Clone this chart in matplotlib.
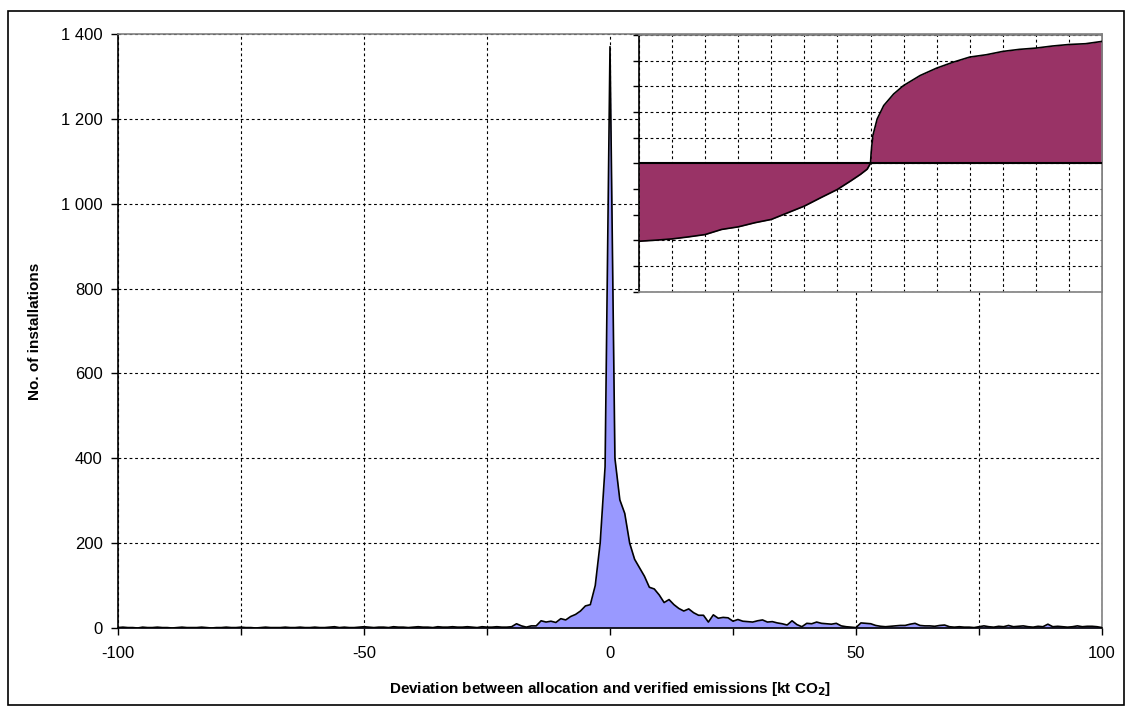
import numpy as np
import matplotlib
matplotlib.use("Agg")
import matplotlib.pyplot as plt
from matplotlib.patches import Rectangle
from matplotlib.ticker import FuncFormatter, MultipleLocator

plt.rcParams['font.family'] = ['Liberation Sans', 'DejaVu Sans']

# histogram: deviation bins (kt CO2) and number of installations
deviation = list(range(-100, 101))
installations = [
    # -100 .. -61
    1, 2, 1, 1, 0, 2, 1, 1, 2, 1, 1, 0, 1, 2, 1, 1, 1, 2, 1, 0,
    1, 1, 2, 1, 1, 2, 1, 1, 0, 1, 2, 1, 1, 1, 2, 1, 1, 2, 1, 1,
    # -60 .. -21
    2, 1, 1, 2, 3, 1, 2, 1, 1, 2, 3, 2, 1, 2, 2, 1, 3, 2, 2, 1,
    2, 3, 2, 2, 1, 3, 2, 2, 3, 2, 2, 3, 2, 1, 3, 2, 2, 3, 2, 2,
    # -20 .. -1
    3, 10, 5, 2, 5, 5, 17, 14, 16, 13, 22, 19, 27, 32, 40, 52, 55, 100, 200, 380,
    # 0 .. 19
    1370, 400, 302, 270, 200, 162, 142, 122, 96, 92, 78, 60, 67, 55, 46, 40, 45, 36, 30, 30,
    # 20 .. 59
    14, 31, 23, 25, 24, 16, 20, 16, 15, 14, 17, 19, 14, 15, 12, 10, 7, 17, 8, 3,
    11, 10, 14, 11, 10, 9, 11, 5, 3, 2, 1, 12, 11, 10, 6, 4, 3, 4, 5, 6,
    # 60 .. 100
    6, 9, 11, 6, 5, 5, 4, 6, 7, 3, 2, 3, 2, 2, 1, 3, 5, 3, 2, 4,
    3, 6, 3, 4, 5, 3, 2, 4, 3, 9, 3, 4, 3, 2, 3, 5, 3, 4, 4, 3, 1,
]

# inset: sorted cumulative curve (grid units)
inset_x = [0, 0.5, 1, 1.5, 2, 2.5, 3, 3.5, 4, 4.5, 5, 5.5, 6, 6.4, 6.7, 6.9, 7.0,
           7.02, 7.07, 7.2, 7.4, 7.7, 8, 8.5, 9, 9.5, 10, 10.5, 11, 11.5, 12,
           12.5, 13, 13.5, 14]
inset_y = [-3.04, -3.0, -2.95, -2.87, -2.78, -2.58, -2.48, -2.32, -2.19, -1.93,
           -1.67, -1.34, -1.02, -0.69, -0.43, -0.23, 0.0,
           0.42, 1.07, 1.72, 2.25, 2.70, 3.03, 3.42, 3.71, 3.94, 4.14, 4.23,
           4.36, 4.44, 4.49, 4.57, 4.63, 4.66, 4.75]

W, H = 1132, 713
fig = plt.figure(figsize=(W / 100, H / 100), dpi=100)

ax = fig.add_axes([118 / W, 1 - 628 / H, (1102 - 118) / W, (628 - 34) / H])
ax.fill_between(deviation, installations, 0, color='#9999FF', lw=0, zorder=2)
ax.plot(deviation, installations, color='black', lw=1.2, zorder=3)
ax.set_xlim(-100, 100)
ax.set_ylim(0, 1400)
ax.xaxis.set_major_locator(MultipleLocator(25))
ax.yaxis.set_major_locator(MultipleLocator(200))
ax.xaxis.set_major_formatter(FuncFormatter(lambda v, p: f"{int(v)}" if v % 50 == 0 else ""))
ax.yaxis.set_major_formatter(FuncFormatter(lambda v, p: f"{int(v):,}".replace(",", " ")))
ax.tick_params(direction='out', length=5, width=1, labelsize=12, colors='black')
ax.tick_params(axis='x', pad=8)
ax.tick_params(axis='y', pad=6)
ax.grid(True, color='black', lw=0.8, linestyle=(0, (2.5, 2.5)), zorder=1)
ax.set_axisbelow(True)
for s in ['top', 'right']:
    ax.spines[s].set_color('#808080')
    ax.spines[s].set_linewidth(1.2)
for s in ['left', 'bottom']:
    ax.spines[s].set_color('black')
    ax.spines[s].set_linewidth(1.2)
ax.set_xlabel("Deviation between allocation and verified emissions [kt CO$_\\mathbf{2}$]",
              fontsize=11, fontweight='bold', labelpad=14)
ax.set_ylabel("No. of installations", fontsize=11, fontweight='bold', labelpad=14)

# inset
ins = fig.add_axes([639 / W, 1 - 291.5 / H, (1102 - 639) / W, (291.5 - 35) / H])
ins.set_facecolor('white')
ins.fill_between(inset_x, inset_y, 0, color='#993366', lw=0, zorder=2)
ins.plot(inset_x, inset_y, color='black', lw=1.2, zorder=3)
ins.axhline(0, color='black', lw=1.5, zorder=4)
ins.set_xlim(0, 14)
ins.set_ylim(-5, 5)
ins.xaxis.set_major_locator(MultipleLocator(1))
ins.yaxis.set_major_locator(MultipleLocator(1))
ins.grid(True, color='black', lw=0.8, linestyle=(0, (2.5, 2.5)), zorder=1)
ins.set_axisbelow(True)
ins.tick_params(axis='x', length=0, labelbottom=False)
ins.tick_params(axis='y', direction='out', length=4, width=1, labelleft=False)
for s in ['top', 'right', 'bottom']:
    ins.spines[s].set_color('#808080')
    ins.spines[s].set_linewidth(1.2)
ins.spines['left'].set_color('black')
ins.spines['left'].set_linewidth(1.2)

# outer chart frame
fig.patches.append(Rectangle((8 / W, 1 - 705 / H), (1124 - 8) / W, (705 - 11) / H,
                             transform=fig.transFigure, fill=False,
                             edgecolor='black', lw=1.2))

fig.savefig("out.png", dpi=100)
